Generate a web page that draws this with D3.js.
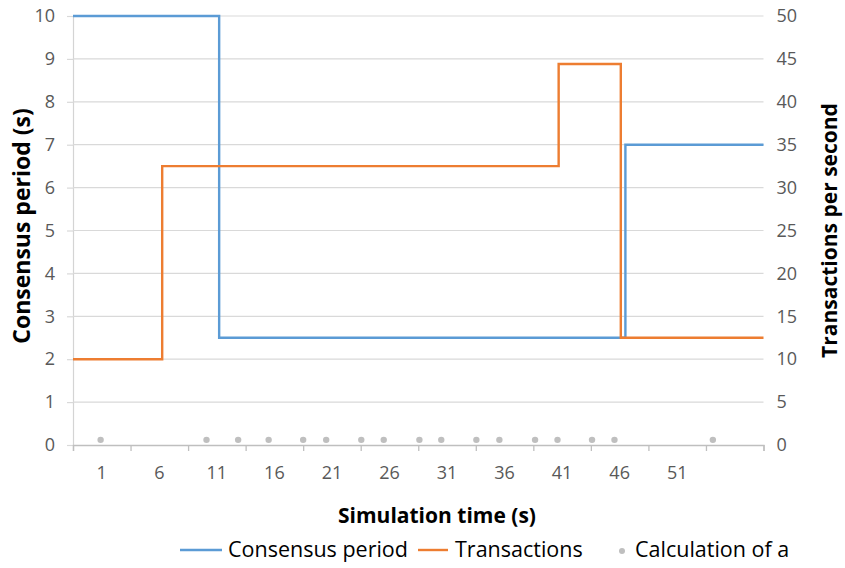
<!DOCTYPE html>
<html>
<head>
<meta charset="utf-8">
<script src="https://cdn.jsdelivr.net/npm/d3@7"></script>
<style>
  html, body { margin: 0; padding: 0; background: #ffffff; }
  svg { display: block; font-family: "Open Sans", "Noto Sans", sans-serif; }
</style>
</head>
<body>
<svg id="chart" width="845" height="568"></svg>
<script>
// ---- data ----
const xTickLabels = ["1", "6", "11", "16", "21", "26", "31", "36", "41", "46", "51"];
const leftTicks = [0, 1, 2, 3, 4, 5, 6, 7, 8, 9, 10];
const rightTicks = [0, 5, 10, 15, 20, 25, 30, 35, 40, 45, 50];

const consensusTime = [0, 12.7, 48.0, 60];
const consensusPeriod = [10, 2.5, 7, 7];

const txTime = [0, 7.75, 42.2, 47.6, 60];
const txRate = [10, 32.5, 44.4, 12.5, 12.5];

const calcTimes = [2.4, 11.6, 14.35, 17, 20, 22, 25.05, 27, 30.1, 32, 35.05, 37.05, 40.15, 42.1, 45.1, 47.05, 55.6];
const calcLevel = [0.6];

const seriesNames = ["Consensus period", "Transactions", "Calculation of a"];

// ---- layout ----
const svg = d3.select("#chart");
const plot = { left: 73, right: 763.5, top: 16, bottom: 445 };
const blue = "#5b9bd5", orange = "#ed7d31", dotGray = "#bfbfbf";

const x = d3.scaleLinear().domain([0, 60]).range([plot.left, plot.right]);
const yL = d3.scaleLinear().domain([0, 10]).range([plot.bottom, plot.top]);
const yR = d3.scaleLinear().domain([0, 50]).range([plot.bottom, plot.top]);

// gridlines + left ticks
const gLeft = svg.append("g").attr("transform", `translate(${plot.left},0)`)
  .call(d3.axisLeft(yL).tickValues(leftTicks).tickSize(6).tickPadding(12).tickFormat(d3.format("d")));
gLeft.select(".domain").attr("stroke", "#d4d4d4").attr("stroke-width", 1.2);
gLeft.selectAll(".tick line").attr("stroke", "#d9d9d9").attr("stroke-width", 1.2);
gLeft.selectAll(".tick text").attr("fill", "#595959").style("font-size", "18px").attr("font-family", "Open Sans");

svg.append("g").selectAll("line.grid").data(leftTicks.filter(d => d > 0)).join("line")
  .attr("x1", plot.left).attr("x2", plot.right)
  .attr("y1", d => yL(d)).attr("y2", d => yL(d))
  .attr("stroke", "#d9d9d9").attr("stroke-width", 1.2);

// right axis
const gRight = svg.append("g").attr("transform", `translate(${plot.right},0)`)
  .call(d3.axisRight(yR).tickValues(rightTicks).tickSize(0).tickPadding(13).tickFormat(d3.format("d")));
gRight.select(".domain").remove();
gRight.selectAll(".tick text").attr("fill", "#595959").style("font-size", "18px").attr("font-family", "Open Sans");

// x axis
const gX = svg.append("g").attr("transform", `translate(0,${plot.bottom})`)
  .call(d3.axisBottom(x).tickValues(d3.range(0, 61, 5)).tickSize(6).tickFormat(""));
gX.select(".domain").attr("stroke", "#bfbfbf").attr("stroke-width", 1.3);
gX.selectAll(".tick line").attr("stroke", "#bfbfbf").attr("stroke-width", 1.3);

svg.append("g").selectAll("text.xl").data(xTickLabels).join("text")
  .attr("x", (d, i) => x(i * 5 + 2.5))
  .attr("y", plot.bottom + 34)
  .attr("text-anchor", "middle")
  .attr("fill", "#595959")
  .style("font-size", "18px")
  .text(d => d);

// lines
const lineL = d3.line().x(d => x(d[0])).y(d => yL(d[1])).curve(d3.curveStepAfter);
const lineR = d3.line().x(d => x(d[0])).y(d => yR(d[1])).curve(d3.curveStepAfter);

svg.append("path")
  .datum(consensusTime.map((t, i) => [t, consensusPeriod[i]]))
  .attr("d", lineL).attr("fill", "none").attr("stroke", blue).attr("stroke-width", 2.4);

svg.append("path")
  .datum(txTime.map((t, i) => [t, txRate[i]]))
  .attr("d", lineR).attr("fill", "none").attr("stroke", orange).attr("stroke-width", 2.4);

// dots
svg.append("g").selectAll("circle").data(calcTimes).join("circle")
  .attr("cx", d => x(d)).attr("cy", yR(calcLevel[0])).attr("r", 3.2)
  .attr("fill", dotGray);

// axis titles
svg.append("text")
  .attr("transform", `translate(30,226) rotate(-90)`)
  .attr("text-anchor", "middle")
  .attr("font-weight", "bold").style("font-size", "23px").attr("fill", "#000")
  .text("Consensus period (s)");

svg.append("text")
  .attr("transform", `translate(837,${(plot.top + plot.bottom) / 2}) rotate(-90)`)
  .attr("text-anchor", "middle")
  .attr("font-weight", "bold").style("font-size", "21px").attr("fill", "#000")
  .text("Transactions per second");

svg.append("text")
  .attr("x", 437).attr("y", 523)
  .attr("text-anchor", "middle")
  .attr("font-weight", "bold").style("font-size", "21px").attr("fill", "#000")
  .text("Simulation time (s)");

// legend
const legY = 550;
const leg = svg.append("g");
leg.append("line").attr("x1", 180).attr("x2", 222).attr("y1", legY).attr("y2", legY)
  .attr("stroke", blue).attr("stroke-width", 2.4);
leg.append("text").attr("x", 228).attr("y", legY + 7).style("font-size", "21.5px").attr("fill", "#000")
  .text(seriesNames[0]);
leg.append("line").attr("x1", 418).attr("x2", 448).attr("y1", legY).attr("y2", legY)
  .attr("stroke", orange).attr("stroke-width", 2.4);
leg.append("text").attr("x", 455).attr("y", legY + 7).style("font-size", "21.5px").attr("fill", "#000")
  .text(seriesNames[1]);
leg.append("circle").attr("cx", 622).attr("cy", legY + 1).attr("r", 3).attr("fill", dotGray);
leg.append("text").attr("x", 635).attr("y", legY + 7).style("font-size", "21.5px").attr("fill", "#000")
  .text(seriesNames[2]);
</script>
</body>
</html>
